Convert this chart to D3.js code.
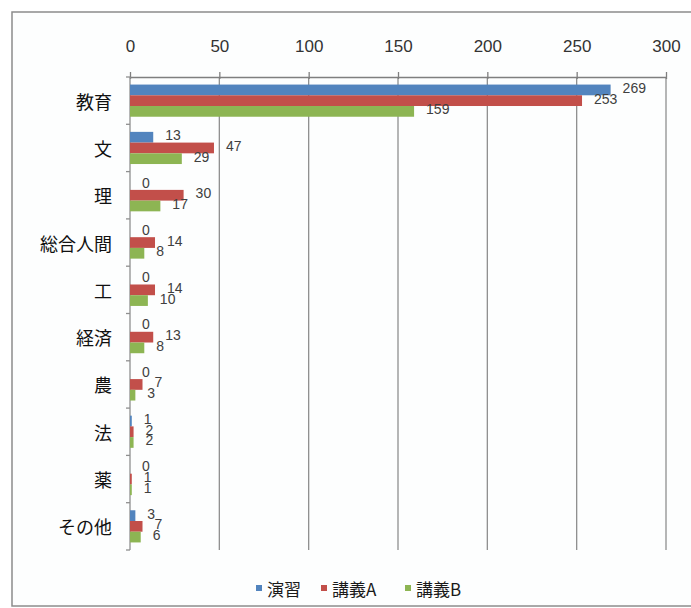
<!DOCTYPE html>
<html>
<head>
<meta charset="utf-8">
<script src="https://cdn.jsdelivr.net/npm/d3@7"></script>
<style>
  html, body { margin: 0; padding: 0; background: #ffffff; }
  svg { display: block; }
</style>
</head>
<body>
<svg id="chart" width="691" height="608"></svg>
<script>
// Faculties (rows, top to bottom)
const categories = ["教育", "文", "理", "総合人間", "工", "経済", "農", "法", "薬", "その他"];
// Series names
const seriesNames = ["演習", "講義A", "講義B"];
// Values per series, in category order
const enshu   = [269, 13, 0, 0, 0, 0, 0, 1, 0, 3];
const kougiA  = [253, 47, 30, 14, 14, 13, 7, 2, 1, 7];
const kougiB  = [159, 29, 17, 8, 10, 8, 3, 2, 1, 6];
// Axis ticks
const xTicks = [0, 50, 100, 150, 200, 250, 300];

const seriesValues = [enshu, kougiA, kougiB];
const colors = ["#5284be", "#c24f4a", "#8db553"];

const svg = d3.select("#chart");
const W = 691, H = 608;

// Frame around the chart area
svg.append("rect")
  .attr("x", 12).attr("y", 12)
  .attr("width", W + 20).attr("height", 594)
  .attr("fill", "#fdfefe")
  .attr("stroke", "#8c8c8c")
  .attr("stroke-width", 1.5);

const plotLeft = 130, plotRight = 666, plotTop = 77, plotBottom = 550;

const x = d3.scaleLinear().domain([0, 300]).range([plotLeft, plotRight]);
const y = d3.scaleBand().domain(categories).range([plotTop, plotBottom])
  .paddingInner(0.32).paddingOuter(0.16);
const ySub = d3.scaleBand().domain(seriesNames).range([0, y.bandwidth()]);

// Vertical gridlines
svg.append("g")
  .selectAll("line")
  .data(xTicks.slice(1))
  .join("line")
  .attr("x1", d => x(d)).attr("x2", d => x(d))
  .attr("y1", plotTop).attr("y2", plotBottom)
  .attr("stroke", "#8f8f8f")
  .attr("stroke-width", 1.3);

// Top value axis
const xAxis = svg.append("g")
  .attr("transform", `translate(0,${plotTop})`)
  .call(d3.axisTop(x).tickValues(xTicks).tickSize(5).tickSizeOuter(0).tickPadding(20));
xAxis.select(".domain").attr("stroke", "#7f7f7f").attr("stroke-width", 1.3);
xAxis.selectAll(".tick line").attr("stroke", "#7f7f7f").attr("stroke-width", 1.3)
  .attr("y2", -5).attr("y1", 2);
xAxis.selectAll(".tick text")
  .attr("font-family", "'Liberation Sans', Arial, sans-serif")
  .attr("font-size", 17)
  .attr("fill", "#333");

// Left category axis line with boundary ticks
svg.append("line")
  .attr("x1", plotLeft).attr("x2", plotLeft)
  .attr("y1", plotTop).attr("y2", plotBottom)
  .attr("stroke", "#8f8f8f").attr("stroke-width", 1.3);
const bounds = categories.map(c => y(c) - y.step() * y.paddingOuter()).concat([plotBottom]);
svg.append("g").selectAll("line")
  .data(bounds)
  .join("line")
  .attr("x1", plotLeft - 4).attr("x2", plotLeft)
  .attr("y1", d => d).attr("y2", d => d)
  .attr("stroke", "#8f8f8f").attr("stroke-width", 1.3);

// Category labels
svg.append("g").selectAll("text")
  .data(categories)
  .join("text")
  .attr("x", 112)
  .attr("y", d => y(d) + y.bandwidth() / 2)
  .attr("text-anchor", "end")
  .attr("dominant-baseline", "central")
  .attr("font-family", "'Noto Sans CJK JP', sans-serif")
  .attr("font-size", 18)
  .attr("fill", "#111")
  .text(d => d);

// Bars and value labels
const rows = [];
categories.forEach((c, i) => {
  seriesNames.forEach((s, j) => {
    rows.push({ cat: c, series: s, value: seriesValues[j][i], color: colors[j] });
  });
});

const g = svg.append("g");
g.selectAll("rect")
  .data(rows)
  .join("rect")
  .attr("x", x(0))
  .attr("y", d => y(d.cat) + ySub(d.series))
  .attr("width", d => x(d.value) - x(0))
  .attr("height", ySub.bandwidth())
  .attr("fill", d => d.color);

g.selectAll("text")
  .data(rows)
  .join("text")
  .attr("x", d => x(d.value) + 12)
  .attr("y", d => y(d.cat) + ySub(d.series) + ySub.bandwidth() / 2 - 2)
  .attr("dominant-baseline", "central")
  .attr("font-family", "'Liberation Sans', Arial, sans-serif")
  .attr("font-size", 14)
  .attr("fill", "#404040")
  .text(d => d.value);

// Legend
const legend = svg.append("g").attr("transform", "translate(0,588)");
const legendX = [256, 321, 405];
seriesNames.forEach((s, j) => {
  const lg = legend.append("g").attr("transform", `translate(${legendX[j]},0)`);
  lg.append("rect").attr("x", 0).attr("y", -3).attr("width", 6).attr("height", 6).attr("fill", colors[j]);
  lg.append("text")
    .attr("x", 11).attr("y", 0)
    .attr("dominant-baseline", "central")
    .attr("font-family", "'Noto Sans CJK JP', sans-serif")
    .attr("font-size", 17)
    .attr("fill", "#1a1a1a")
    .text(s);
});
</script>
</body>
</html>
